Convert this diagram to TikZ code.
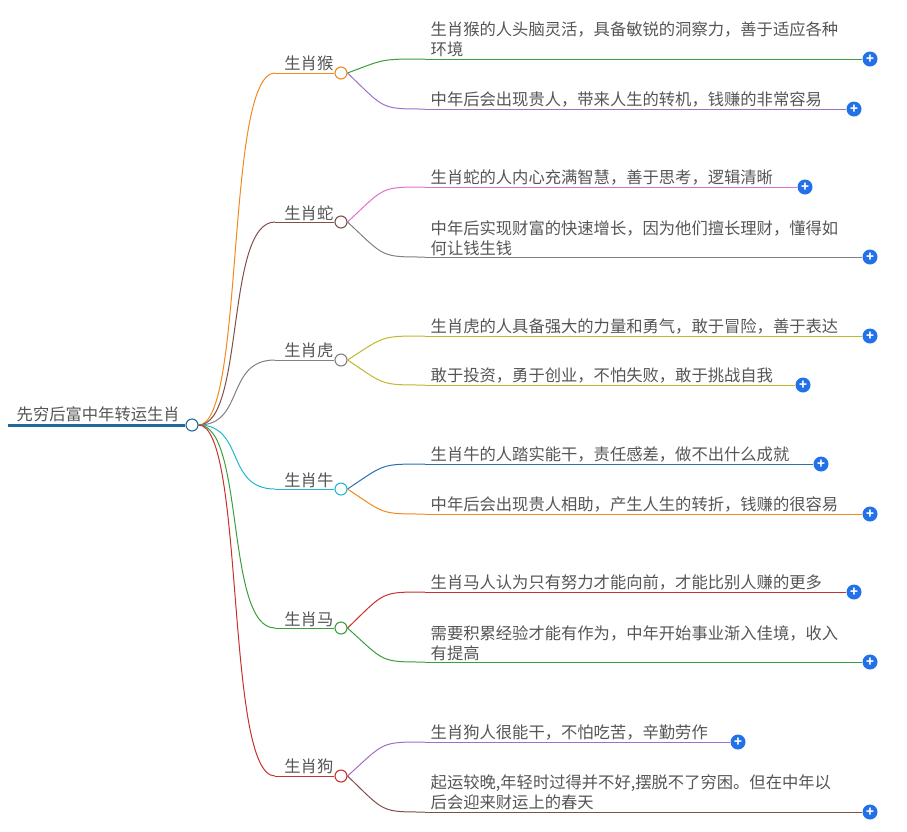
\documentclass[tikz,border=0pt]{standalone}
\usepackage{fontspec}
\setmainfont{Noto Sans CJK SC}
\usetikzlibrary{positioning}
\definecolor{cOrange}{HTML}{F0891E}
\definecolor{cBrown}{HTML}{7B5148}
\definecolor{cGray}{HTML}{808080}
\definecolor{cCyan}{HTML}{1EB8D0}
\definecolor{cGreen}{HTML}{3A9E3A}
\definecolor{cRed}{HTML}{C8302E}
\definecolor{cPurple}{HTML}{A070C8}
\definecolor{cPink}{HTML}{E070C8}
\definecolor{cOlive}{HTML}{C0B830}
\definecolor{cBlue}{HTML}{2A70B0}
\definecolor{cRoot}{HTML}{21699A}
\definecolor{cPlus}{HTML}{2271E8}
\definecolor{cText}{HTML}{555555}
\begin{document}
\begin{tikzpicture}[x=1pt,y=-1pt,
  leaf/.style = {anchor=south west, inner sep=0.5pt, text=cText, font=\fontsize{16.3}{20}\selectfont, align=left},
  sub/.style = {anchor=south east, inner sep=0.5pt, text=cText, font=\fontsize{16.3}{20}\selectfont},
  dot/.style = {circle, draw, fill=white, minimum size=12pt, inner sep=0pt, line width=1.1pt},
  plus/.style = {circle, fill=cPlus, minimum size=15pt, inner sep=0pt, text=white, font=\bfseries\fontsize{13}{13}\selectfont},
  link/.style = {line width=1pt}]
\useasboundingbox (0,0) rectangle (907,831);
% root
\node[sub, anchor=south west] (root) at (16,423) {先穷后富中年转运生肖};
\coordinate (rootl) at (8,425);
\node[dot, draw=cRoot] (rootc) at (192,425) {};
\draw[cRoot, line width=3pt] (rootl) -- (rootc.west);
% branches
\foreach \nm/\txt/\y/\col in {hou/生肖猴/73/cOrange, she/生肖蛇/222/cBrown, hu/生肖虎/360/cGray, niu/生肖牛/489/cCyan, ma/生肖马/628/cGreen, gou/生肖狗/776/cRed}{
  \node[dot, draw=\col] (\nm c) at (341,\y) {};
  \coordinate (\nm s) at (275,\y);
  \node[sub] (\nm) at (334,\y-1) {\txt};
  \draw[\col, link] (\nm s) -- (\nm c.west);
  \draw[\col, link] (rootc.east) .. controls (245,425) and (225,\y) .. (\nm s);
}
% leaves
\foreach \nm/\br/\y/\e/\col/\txt in {
  hou1/hou/59/870/cGreen/{生肖猴的人头脑灵活，具备敏锐的洞察力，善于适应各种\\环境},
  hou2/hou/109/854/cPurple/{中年后会出现贵人，带来人生的转机，钱赚的非常容易},
  she1/she/187/805/cPink/{生肖蛇的人内心充满智慧，善于思考，逻辑清晰},
  she2/she/257/870/cGray/{中年后实现财富的快速增长，因为他们擅长理财，懂得如\\何让钱生钱},
  hu1/hu/336/870/cOlive/{生肖虎的人具备强大的力量和勇气，敢于冒险，善于表达},
  hu2/hu/385/803/cOlive/{敢于投资，勇于创业，不怕失败，敢于挑战自我},
  niu1/niu/464/821/cBlue/{生肖牛的人踏实能干，责任感差，做不出什么成就},
  niu2/niu/514/870/cOrange/{中年后会出现贵人相助，产生人生的转折，钱赚的很容易},
  ma1/ma/592/854/cRed/{生肖马人认为只有努力才能向前，才能比别人赚的更多},
  ma2/ma/662/870/cGreen/{需要积累经验才能有作为，中年开始事业渐入佳境，收入\\有提高},
  gou1/gou/742/738/cPurple/{生肖狗人很能干，不怕吃苦，辛勤劳作},
  gou2/gou/812/870/cBrown/{起运较晚,年轻时过得并不好,摆脱不了穷困。但在中年以\\后会迎来财运上的春天}}{
  \coordinate (\nm s) at (425,\y);
  \node[leaf] (\nm) at (430,\y-1) {\txt};
  \node[plus] (\nm p) at (\e,\y) {+};
  \draw[\col, link] (\nm s) -- (\nm p.west);
  \draw[\col, link] (\br c.east) .. controls (385,\y+0) and (380,\y) .. (\nm s);
}
\end{tikzpicture}
\end{document}
